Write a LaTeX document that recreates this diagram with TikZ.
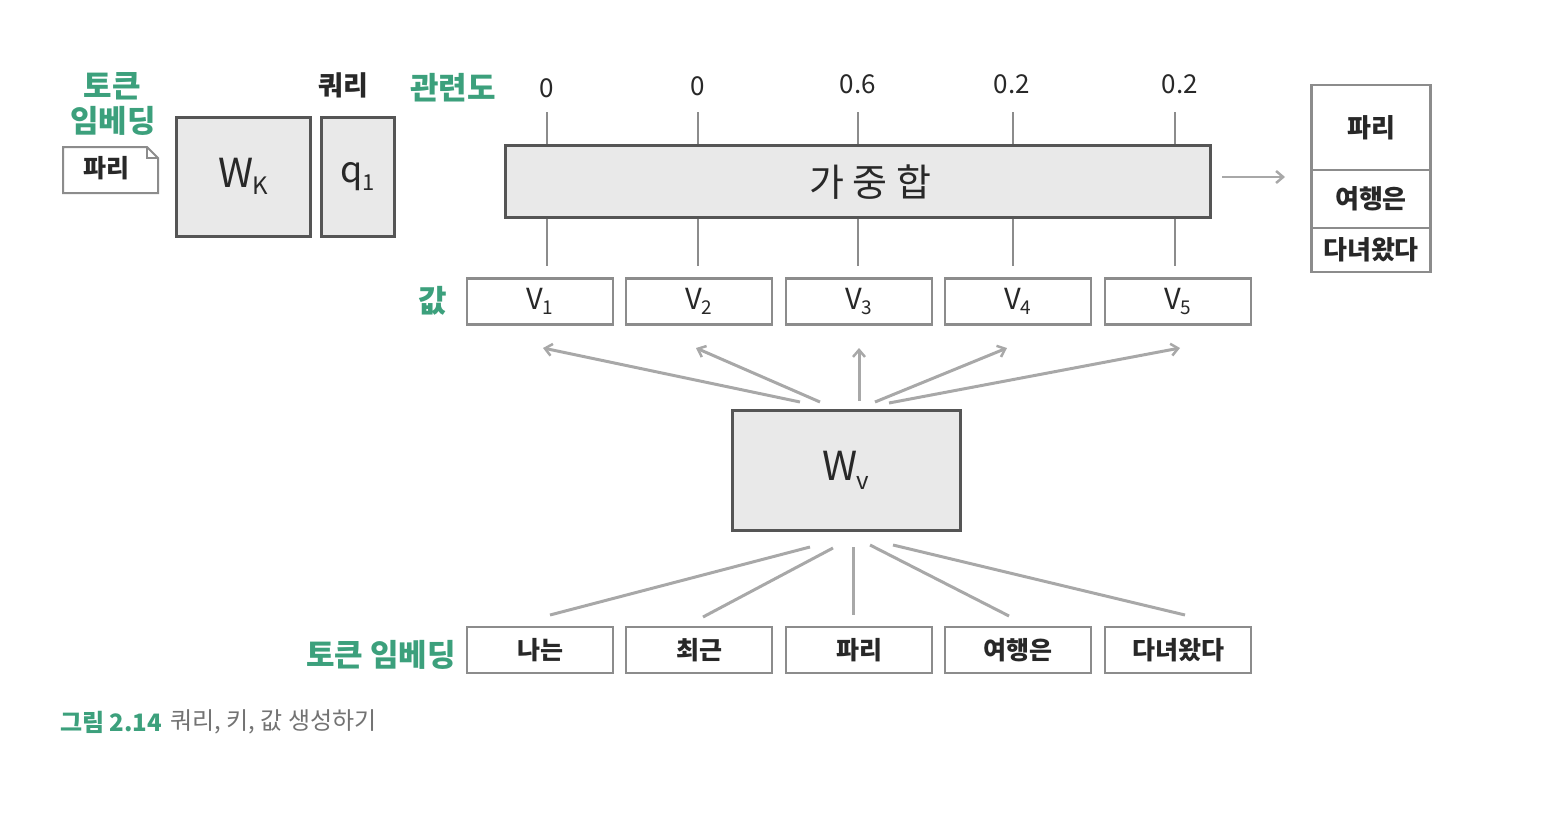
\documentclass[tikz,border=0pt]{standalone}
\usepackage{fontspec}
\setmainfont{Noto Sans CJK KR}
\usetikzlibrary{arrows.meta}
\definecolor{grn}{RGB}{60,160,124}
\definecolor{boxfill}{RGB}{233,233,233}
\definecolor{boxline}{RGB}{85,85,85}
\definecolor{lightline}{RGB}{140,140,140}
\definecolor{conn}{RGB}{168,168,168}
\definecolor{txt}{RGB}{40,40,40}
\tikzset{
  heavybox/.style={draw=boxline, fill=boxfill, line width=3pt, inner sep=0pt},
  lightbox/.style={draw=lightline, fill=white, line width=2.2pt, inner sep=0pt,
     minimum width=146pt, minimum height=46pt, font=\fontsize{25}{25}\selectfont\bfseries, text=txt},
  outbox/.style={draw=lightline, fill=white, line width=2.2pt, inner sep=0pt,
     minimum width=119pt, font=\fontsize{26}{26}\selectfont\bfseries, text=txt},
  greenlab/.style={text=grn, font=\fontsize{31}{31}\selectfont\bfseries, inner sep=0pt},
  blacklab/.style={text=txt, font=\fontsize{27}{27}\selectfont\bfseries, inner sep=0pt},
  numlab/.style={text=txt, font=\fontsize{26}{26}\selectfont, inner sep=0pt},
  tick/.style={draw=lightline, line width=2.2pt},
  conline/.style={draw=conn, line width=3pt},
  conarrow/.style={draw=conn, line width=3pt, -{Straight Barb[length=7pt,width=12pt,line width=2.5pt]}},
}
\newcommand{\subV}[1]{\mdseries\fontsize{29}{29}\selectfont V\kern-1pt\raisebox{-0.35ex}{\fontsize{19}{19}\selectfont #1}}
\begin{document}
\begin{tikzpicture}[x=1pt,y=-1pt]
\useasboundingbox (0,0) rectangle (1556,814);

% top-left group
\node[greenlab] (tok1a) at (112,86) {토큰};
\node[greenlab] (tok1b) at (113,121) {임베딩};
\draw[draw=lightline, line width=2pt, fill=white] (63,147) -- (147,147) -- (158,158) -- (158,193) -- (63,193) -- cycle;
\draw[draw=lightline, line width=1.5pt] (147,147) -- (147,158) -- (158,158);
\node[blacklab, font=\fontsize{25}{25}\selectfont\bfseries] (doc) at (106,168) {파리};
\node[heavybox, minimum width=134pt, minimum height=119pt] (wk) at (243,176.5) {};
\node[text=txt, font=\fontsize{40}{40}\selectfont] at (wk) {W\kern-1pt\raisebox{-0.3ex}{\fontsize{24}{24}\selectfont K}};
\node[heavybox, minimum width=73pt, minimum height=119pt] (q1) at (357.5,176.5) {};
\node[text=txt, font=\fontsize{36}{36}\selectfont] at (q1) {q\kern-1pt\raisebox{-0.4ex}{\fontsize{22}{22}\selectfont 1}};
\node[blacklab] (query) at (343,85) {쿼리};

% relevance
\node[greenlab] (rel) at (453,88) {관련도};
\node[numlab] (n1) at (547,88) {0};
\node[numlab] (n2) at (698,86) {0};
\node[numlab] (n3) at (858,84) {0.6};
\node[numlab] (n4) at (1012,84) {0.2};
\node[numlab] (n5) at (1180,84) {0.2};

% weighted sum box
\node[heavybox, minimum width=705pt, minimum height=72pt] (ws) at (857.5,181) {};
\node[text=txt, font=\fontsize{38}{38}\selectfont] at (870,182) {가 중 합};

% value boxes
\node[greenlab] (val) at (433,301) {값};
\foreach \i/\x in {1/540,2/699,3/859,4/1018,5/1178}{
  \node[lightbox] (v\i) at (\x,301.5) {\subV{\i}};
}
% ticks
\foreach \i/\x in {1/547,2/698,3/858,4/1013,5/1175}{
  \coordinate (t\i) at (\x,112);
  \coordinate (b\i) at (\x,266);
  \draw[tick] (t\i) -- (t\i |- ws.north);
  \draw[tick] (t\i |- ws.south) -- (b\i);
}

% output stack
\node[outbox, minimum height=85pt] (o1) at (1371,127.5) {파리};
\node[outbox, minimum height=58pt] (o2) at (1371,199) {여행은};
\node[outbox, minimum height=44pt] (o3) at (1371,250) {다녀왔다};
\coordinate (arrS) at (1222,177);
\coordinate (arrE) at (1285,177);
\draw[conarrow, line width=2.5pt] (arrS) -- (arrE);

% W_V
\node[heavybox, minimum width=228pt, minimum height=120pt] (wv) at (846,470) {};
\node[text=txt, font=\fontsize{40}{40}\selectfont] at (wv) {W\kern-1pt\raisebox{-0.4ex}{\fontsize{24}{24}\selectfont v}};

% arrows up
\coordinate (s1) at (800,402); \coordinate (e1) at (543,348);
\coordinate (s2) at (820,402); \coordinate (e2) at (696,348);
\coordinate (s3) at (859,401); \coordinate (e3) at (859,348);
\coordinate (s4) at (875,402); \coordinate (e4) at (1007,348);
\coordinate (s5) at (889,403); \coordinate (e5) at (1180,348);
\foreach \i in {1,...,5}{ \draw[conarrow] (s\i) -- (e\i); }

% token boxes
\node[greenlab] (tok2) at (381,655) {토큰 임베딩};
\foreach \i/\x/\w in {1/540/나는,2/699/최근,3/859/파리,4/1018/여행은,5/1178/다녀왔다}{
  \node[lightbox] (k\i) at (\x,650) {\w};
}
% lines down
\coordinate (u1) at (810,547); \coordinate (d1) at (550,615);
\coordinate (u2) at (833,548); \coordinate (d2) at (703,617);
\coordinate (u3) at (853,547); \coordinate (d3) at (853,615);
\coordinate (u4) at (870,545); \coordinate (d4) at (1009,616);
\coordinate (u5) at (893,545); \coordinate (d5) at (1185,615);
\foreach \i in {1,...,5}{ \draw[conline] (u\i) -- (d\i); }

% caption
\node[anchor=west, inner sep=0pt, text=grn, font=\fontsize{24}{24}\selectfont\bfseries] (cap1) at (60,722) {그림 2.14};
\node[anchor=west, inner sep=0pt, text=gray!90!black, font=\fontsize{24}{24}\selectfont] (cap2) at (cap1.east) {\hspace{8pt}쿼리, 키, 값 생성하기};
\end{tikzpicture}
\end{document}
